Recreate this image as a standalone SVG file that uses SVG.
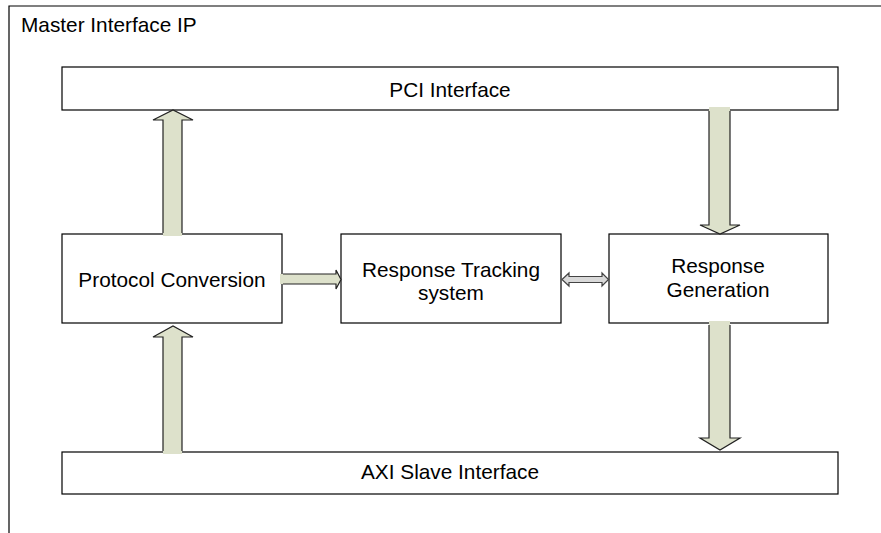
<svg xmlns="http://www.w3.org/2000/svg" width="881" height="533" viewBox="0 0 881 533">
<style>
.box{fill:#fff;stroke:#000;stroke-width:1.2}
.t{font-family:"Liberation Sans",Arial,sans-serif;font-size:20.8px;fill:#000;text-anchor:middle}
.af{fill:#dde1cb;stroke:none}
.as{fill:none;stroke:#222;stroke-width:1.2;stroke-linejoin:miter}
.df{fill:#d9d9d9;stroke:#444;stroke-width:1.2}
</style>
<rect x="0" y="0" width="881" height="533" fill="#fff"/>
<g id="container">
<path d="M9,533 V6 H881" fill="none" stroke="#000" stroke-width="1.2"/>
<text class="t" x="21" y="32" style="text-anchor:start">Master Interface IP</text>
</g>
<g id="pci">
<rect class="box" x="62" y="67" width="776" height="43"/>
<text class="t" x="450" y="97">PCI Interface</text>
</g>
<g id="protocol">
<rect class="box" x="62" y="234" width="220" height="89"/>
<text class="t" x="172" y="287">Protocol Conversion</text>
</g>
<g id="tracking">
<rect class="box" x="341" y="234" width="220" height="89"/>
<text class="t" x="451" y="277">Response Tracking</text>
<text class="t" x="451" y="300">system</text>
</g>
<g id="generation">
<rect class="box" x="609" y="234" width="219" height="89"/>
<text class="t" x="718" y="273">Response</text>
<text class="t" x="718" y="297">Generation</text>
</g>
<g id="axi">
<rect class="box" x="62" y="452" width="776" height="42"/>
<text class="t" x="450" y="479">AXI Slave Interface</text>
</g>
<g id="connectors">
<polygon class="af" points="163,236 163,120 153,120 173,110 193,120 182,120 182,236"/>
<path class="as" d="M163,233 V120 H153 L173,110 L193,120 H182 V233"/>
<polygon class="af" points="709,107 709,225 700,225 720,234 740,225 730,225 730,107"/>
<path class="as" d="M709,111 V225 H700 L720,234 L740,225 H730 V111"/>
<polygon class="af" points="709,321 709,438 700,438 720,450 740,438 730,438 730,321"/>
<path class="as" d="M709,325 V438 H700 L720,450 L740,438 H730 V325"/>
<polygon class="af" points="163,454 163,337 153,337 173,326 193,337 182,337 182,454"/>
<path class="as" d="M163,451 V337 H153 L173,326 L193,337 H182 V451"/>
<polygon class="af" points="280,274 336,274 336,270 341,279.5 336,289 336,284 280,284"/>
<path class="as" d="M283,274 H336 V270 L341,279.5 L336,289 V284 H283"/>
<polygon class="df" points="562,279.5 569,273 569,276.5 602,276.5 602,273 608.5,279.5 602,286 602,282.5 569,282.5 569,286"/>
</g>
</svg>
